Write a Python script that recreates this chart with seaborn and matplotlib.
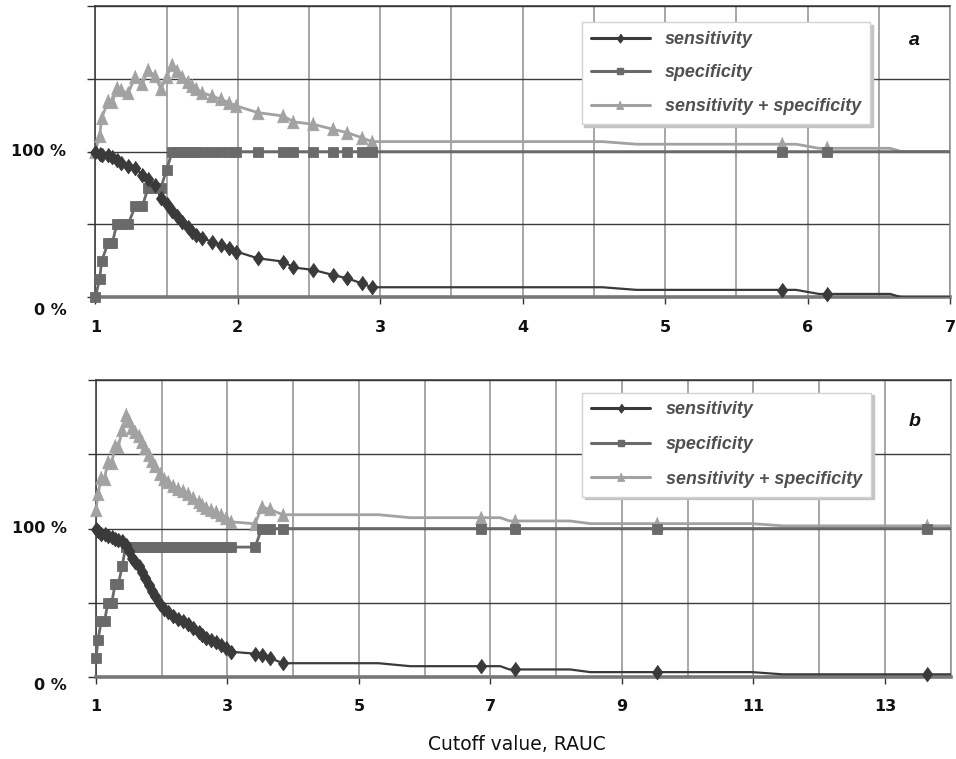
import matplotlib
matplotlib.use("Agg")
import matplotlib.pyplot as plt
from matplotlib.lines import Line2D
from matplotlib.transforms import blended_transform_factory
import pandas as pd
import seaborn as sns

# ---- panel a: cutoff values and the two rates (%) at each cutoff ----
cut_a = [1.000, 1.030, 1.045, 1.090, 1.120, 1.150, 1.180, 1.230, 1.280, 1.330,
         1.370, 1.420, 1.460, 1.500, 1.540, 1.570, 1.610, 1.650, 1.680, 1.710,
         1.750, 1.820, 1.880, 1.940, 1.990, 2.140, 2.320, 2.390, 2.530, 2.670,
         2.770, 2.870, 2.940, 4.560, 4.800, 5.820, 5.920, 6.080, 6.140, 6.580,
         6.660, 7.000]
sens_a = [100, 98.5, 98, 97.5, 96.5, 94, 92, 90, 89, 84,
          81, 77, 68, 64, 59.5, 55.5, 51.5, 48, 45, 43,
          40.5, 38.2, 35.9, 33.6, 31.4, 26.8, 24.5, 20.5, 18.8, 15.3,
          13, 9.6, 6.9, 6.9, 5.1, 5.1, 5.1, 2.3, 2.3, 2.3,
          0, 0]
spec_a = [0, 12.5, 25, 37.5, 37.5, 50, 50, 50, 62.5, 62.5,
          75, 75, 75, 87.5, 100, 100, 100, 100, 100, 100,
          100, 100, 100, 100, 100, 100, 100, 100, 100, 100,
          100, 100, 100, 100, 100, 100, 100, 100, 100, 100,
          100, 100]
mark_a = [1] * 33 + [0, 0, 1, 0, 0, 1, 0, 0, 0]

# ---- panel b ----
cut_b = [1.00, 1.03, 1.08, 1.13, 1.18, 1.24, 1.29, 1.34, 1.40, 1.45,
         1.50, 1.55, 1.60, 1.65, 1.70, 1.75, 1.80, 1.85, 1.90, 1.97,
         2.03, 2.10, 2.17, 2.25, 2.32, 2.40, 2.48, 2.56, 2.62, 2.68,
         2.75, 2.82, 2.90, 2.98, 3.06, 3.34, 3.42, 3.52, 3.64, 3.84,
         5.30, 5.78, 6.86, 7.15, 7.29, 7.37, 8.21, 8.52, 9.54, 10.98,
         11.45, 13.64, 14.00]
sens_b = [100, 98, 96.5, 96, 95, 94, 93, 92.5, 91.5, 89,
          85, 80, 77.5, 74.5, 71, 66.5, 62, 58, 54.5, 49,
          46, 43.5, 41, 39, 37.5, 35.5, 33, 30.5, 28.5, 26.5,
          25, 23.5, 21.5, 19.5, 17, 16, 15.5, 14.5, 13, 9.3,
          9.3, 7.3, 7.3, 7.3, 5.1, 5.1, 5.1, 3.3, 3.3, 3.3,
          1.8, 1.8, 1.8]
spec_b = [12.5, 25, 37.5, 37.5, 50, 50, 62.5, 62.5, 75, 87.5,
          87.5, 87.5, 87.5, 87.5, 87.5, 87.5, 87.5, 87.5, 87.5, 87.5,
          87.5, 87.5, 87.5, 87.5, 87.5, 87.5, 87.5, 87.5, 87.5, 87.5,
          87.5, 87.5, 87.5, 87.5, 87.5, 87.5, 87.5, 100, 100, 100,
          100, 100, 100, 100, 100, 100, 100, 100, 100, 100,
          100, 100, 100]
mark_b = [1] * 35 + [0, 1, 1, 1, 1, 0, 0, 1, 0, 0, 1, 0, 0, 1, 0, 0, 1, 0]

series_labels = ["sensitivity", "specificity", "sensitivity + specificity"]
panel_tags = ["a", "b"]
xticks_a = [1, 2, 3, 4, 5, 6, 7]
xticks_b = [1, 3, 5, 7, 9, 11, 13]
ytick_labels = ["0 %", "100 %"]
x_title = "Cutoff value, RAUC"

sns.set_theme(style="white")
plt.rcParams["font.family"] = ["DejaVu Sans"]

DIAMOND = [(0, 1), (0.72, 0), (0, -1), (-0.72, 0)]
TRIANGLE = [(0, 1), (-0.8, -0.85), (0.8, -0.85)]

# column, colour, marker, marker size, line width, label
STYLES = [
    ("sum", "#a2a2a2", TRIANGLE, 10.5, 2.0, series_labels[2]),
    ("spec", "#6a6a6a", "s", 7.8, 2.0, series_labels[1]),
    ("sens", "#3a3a3a", DIAMOND, 10.5, 1.6, series_labels[0]),
]

fig = plt.figure(figsize=(9.56, 7.59), dpi=100)
ax_a = fig.add_axes([0.0997, 0.6083, 0.8940, 0.3838])
ax_b = fig.add_axes([0.1004, 0.1080, 0.8940, 0.3913])


def make_frame(cut, sens, spec, mark):
    df = pd.DataFrame({"cutoff": cut, "sens": sens, "spec": spec, "mark": mark})
    df["sum"] = df["sens"] + df["spec"]
    return df


def draw_panel(ax, df, xmax, major, minor, tag, leg_top, tag_y, zero_label_y, spacing):
    for col, color, marker, ms, lw, _ in STYLES:
        sns.lineplot(data=df, x="cutoff", y=col, ax=ax, color=color, lw=lw,
                     sort=False, estimator=None, legend=False, zorder=3)
        pts = df[df["mark"] == 1]
        ax.plot(pts["cutoff"], pts[col], ls="none", marker=marker, ms=ms,
                color=color, mec=color, mew=0.6, clip_on=False, zorder=4)

    ax.set_xlim(1, xmax)
    ax.set_ylim(0, 200)
    ax.set_xlabel("")
    ax.set_ylabel("")

    ax.set_xticks(major)
    ax.set_xticklabels([str(v) for v in major], fontsize=11.5, fontweight="bold",
                       color="#111111")
    ax.set_xticks(minor, minor=True)
    ax.set_yticks([0, 50, 100, 150, 200])
    ax.set_yticklabels([])
    ax.tick_params(axis="x", which="major", direction="out", length=5, width=1,
                   color="#333333", pad=11, bottom=True)
    ax.tick_params(axis="x", which="minor", length=0, bottom=False)
    ax.tick_params(axis="y", which="major", direction="out", length=6, width=1,
                   color="#333333", left=True)

    ax.grid(True, axis="y", which="major", color="#3c3c3c", lw=1.0)
    ax.grid(True, axis="x", which="both", color="#8e8e8e", lw=1.1)
    ax.set_axisbelow(True)

    for side in ("left", "top"):
        ax.spines[side].set_color("#333333")
        ax.spines[side].set_linewidth(1.1)
    ax.spines["right"].set_color("#8e8e8e")
    ax.spines["right"].set_linewidth(1.1)
    ax.spines["bottom"].set_color("#777777")
    ax.spines["bottom"].set_linewidth(2.6)

    # y labels only at 0 % and 100 %
    tr = blended_transform_factory(ax.transAxes, ax.transData)
    for val, txt in zip([zero_label_y, 100], ytick_labels):
        ax.text(-0.034, val, txt, transform=tr, ha="right", va="center",
                fontsize=11.5, fontweight="bold", color="#111111")

    handles = [Line2D([], [], color=c, lw=2.2, marker=m, ms=ms * 0.6, mec=c)
               for _, c, m, ms, _, _ in STYLES[::-1]]
    labels = [s[5] for s in STYLES[::-1]]
    leg = ax.legend(handles, labels, loc="upper left",
                    bbox_to_anchor=(0.569, leg_top), borderaxespad=0,
                    frameon=True, fancybox=False,
                    shadow={"facecolor": "#c4c4c4", "edgecolor": "#c4c4c4", "alpha": 1},
                    framealpha=1, edgecolor="#d2d2d2", borderpad=0.5,
                    labelspacing=spacing, handlelength=3.3, handletextpad=0.85,
                    prop={"family": "Liberation Sans", "weight": "bold",
                          "style": "italic", "size": 12.9})
    for t in leg.get_texts():
        t.set_color("#505050")
    leg.get_frame().set_linewidth(1.0)

    ax.text(0.958, tag_y, tag, transform=ax.transAxes, ha="center", va="center",
            fontsize=14, fontweight="bold", fontstyle="italic",
            family="Liberation Sans", color="#111111")


df_a = make_frame(cut_a, sens_a, spec_a, mark_a)
df_b = make_frame(cut_b, sens_b, spec_b, mark_b)

draw_panel(ax_a, df_a, 7, xticks_a, [v + 0.5 for v in xticks_a[:-1]],
           panel_tags[0], 0.945, 0.88, -9, 0.92)
draw_panel(ax_b, df_b, 14, xticks_b, [v + 1 for v in xticks_b],
           panel_tags[1], 0.958, 0.862, -6, 0.98)

fig.text(517 / 956, 1 - 745 / 759, x_title, ha="center", va="center",
         fontsize=13.5, color="#111111")

fig.savefig("out.png", dpi=100, facecolor="white")
